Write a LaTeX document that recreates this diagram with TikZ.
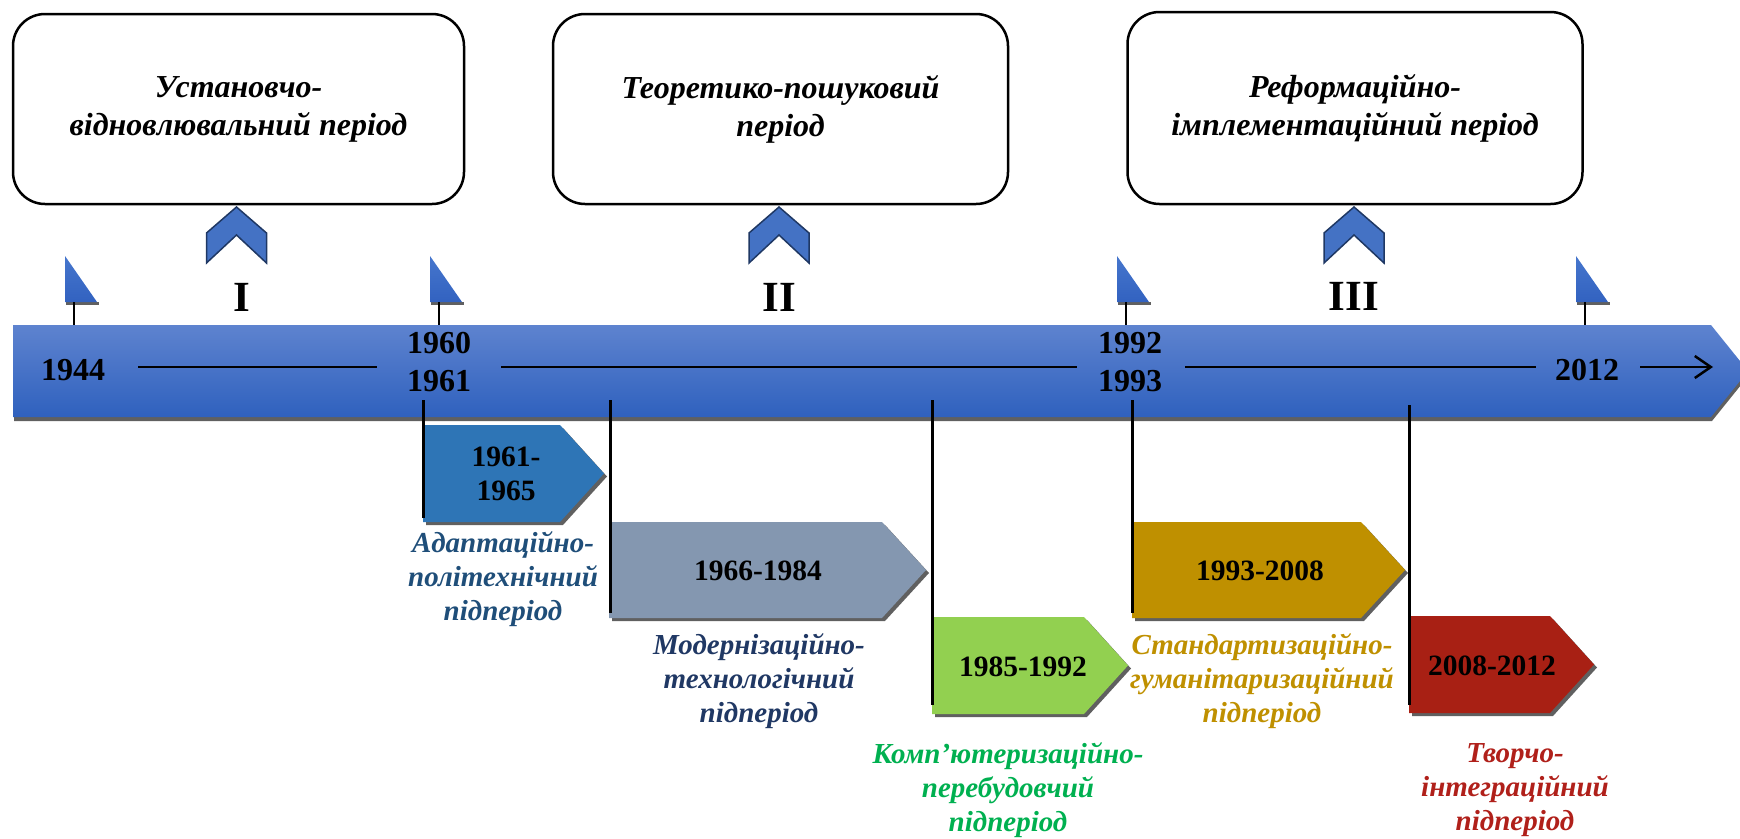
\documentclass[tikz,border=0pt]{standalone}
\usepackage{fontspec}
\setmainfont{Liberation Serif}
\usetikzlibrary{arrows.meta}

\definecolor{barTop}{RGB}{94,131,207}
\definecolor{barBot}{RGB}{47,97,190}
\definecolor{flagTop}{RGB}{70,118,205}
\definecolor{flagBot}{RGB}{50,98,192}
\definecolor{chevFill}{RGB}{68,114,196}
\definecolor{chevLine}{RGB}{31,56,100}
\definecolor{shadowGray}{RGB}{96,96,96}
\definecolor{plateA}{RGB}{46,117,182}
\definecolor{plateB}{RGB}{132,151,176}
\definecolor{plateC}{RGB}{146,208,80}
\definecolor{plateD}{RGB}{191,144,0}
\definecolor{plateE}{RGB}{168,32,20}
\definecolor{textA}{RGB}{31,78,121}
\definecolor{textB}{RGB}{32,56,100}
\definecolor{textC}{RGB}{0,176,80}
\definecolor{textD}{RGB}{191,144,0}
\definecolor{textE}{RGB}{176,32,26}

% home-plate arrow: fill colour, x left, x of shoulder, x tip, y top, y bottom
\newcommand\drawplate[6]{%
  \fill[shadowGray] ({#2+3},{#5+3}) -- ({#3+3},{#5+3}) -- ({#4+3},{(#5+#6)/2+3})
     -- ({#3+3},{#6+3}) -- ({#2+3},{#6+3}) -- cycle;
  \fill[#1] (#2,#5) -- (#3,#5) -- (#4,{(#5+#6)/2}) -- (#3,#6) -- (#2,#6) -- cycle;
}
% upward chevron with its apex at the given point
\newcommand\drawchevron[1]{%
  \draw[chevron, shift={(#1)}] (0,0) -- (-30,26) -- (-30,56) -- (0,28) -- (30,56) -- (30,26) -- cycle;
}
% small triangular flag standing on the time bar
\newcommand\drawflag[2]{%
  \fill[shadowGray] ({#1+1},302) rectangle ({#1+34},305);
  \shade[top color=flagTop, bottom color=flagBot] (#1,256) -- (#1,302) -- ({#1+32},302) -- cycle;
  \coordinate (ft#2) at ({#1+9},302);
  \coordinate (fb#2) at ({#1+9},325);
  \draw[pole] (ft#2) -- (fb#2);
}

\begin{document}
\begin{tikzpicture}[x=1pt,y=-1pt,
  period/.style={draw=black, line width=2.5pt, rounded corners=32pt, fill=white,
    font=\bfseries\itshape\fontsize{32}{38}\selectfont, align=center, inner sep=0pt},
  chevron/.style={fill=chevFill, draw=chevLine, line width=1.5pt, line join=miter},
  pole/.style={line width=2.5pt, black},
  roman/.style={font=\bfseries\fontsize{43}{48}\selectfont},
  year/.style={font=\bfseries\fontsize{32}{38}\selectfont, align=center, inner sep=0pt},
  span/.style={font=\bfseries\fontsize{29.5}{34}\selectfont, align=center, inner sep=0pt},
  sublabel/.style={font=\bfseries\itshape\fontsize{29}{34}\selectfont, align=center, inner sep=0pt},
  tick/.style={line width=3pt, black},
  axisline/.style={line width=2.5pt, black}]
\useasboundingbox (0,0) rectangle (1740,838);

% period boxes
\node[period, minimum width=451pt, minimum height=190pt] (per1) at (238.5,109)
  {Установчо-\\відновлювальний період};
\node[period, minimum width=455pt, minimum height=190pt] (per2) at (780.5,109)
  {Теоретико-пошуковий\\період};
\node[period, minimum width=455pt, minimum height=192pt] (per3) at (1355,108)
  {Реформаційно-\\імплементаційний період};

% chevrons and period numerals
\drawchevron{236.5,207}
\drawchevron{779,207}
\drawchevron{1354,207}
\node[roman] (r1) at (242,297) {I};
\node[roman] (r2) at (779,297) {II};
\node[roman] (r3) at (1354,296) {III};

% time bar
\fill[shadowGray] (14,329) -- (1712,329) -- (1749,375) -- (1712,421) -- (14,421) -- cycle;
\shade[top color=barTop, bottom color=barBot] (13,325) -- (1711,325) -- (1748,371) -- (1711,417) -- (13,417) -- cycle;

% flags
\drawflag{65}{1}
\drawflag{430}{2}
\drawflag{1117}{3}
\drawflag{1576}{4}

% years on the bar
\node[year] (y1944) at (73,370) {1944};
\node[year] (y1960) at (439,362) {1960\\1961};
\node[year] (y1992) at (1130,362) {1992\\1993};
\node[year] (y2012) at (1587,370) {2012};

\coordinate (l1a) at (138,367);  \coordinate (l1b) at (377,367);
\coordinate (l2a) at (501,367);  \coordinate (l2b) at (1077,367);
\coordinate (l3a) at (1185,367); \coordinate (l3b) at (1536,367);
\coordinate (l4a) at (1640,367); \coordinate (l4b) at (1713,367);
\draw[axisline] (l1a) -- (l1b);
\draw[axisline] (l2a) -- (l2b);
\draw[axisline] (l3a) -- (l3b);
\draw[axisline, -{Straight Barb[length=16pt, width=22pt]}] (l4a) -- (l4b);

% sub-period arrows
\drawplate{plateA}{423}{560}{604}{425}{522}
\drawplate{plateB}{609}{882}{926}{522}{618}
\drawplate{plateC}{932}{1084}{1128}{617}{714}
\drawplate{plateD}{1132}{1361}{1405}{522}{618}
\drawplate{plateE}{1409}{1550}{1594}{616}{713}

\node[span] (sA) at (506,474) {1961-\\1965};
\node[span] (sB) at (758,571) {1966-1984};
\node[span] (sC) at (1023,667) {1985-1992};
\node[span] (sD) at (1260,571) {1993-2008};
\node[span] (sE) at (1492,666) {2008-2012};

% ticks dropping from the bar
\coordinate (tA1) at (423,400);  \coordinate (tA2) at (423,518);
\coordinate (tB1) at (610,400);  \coordinate (tB2) at (610,613);
\coordinate (tC1) at (932,400);  \coordinate (tC2) at (932,705);
\coordinate (tD1) at (1132,400); \coordinate (tD2) at (1132,613);
\coordinate (tE1) at (1409,405); \coordinate (tE2) at (1409,705);
\draw[tick] (tA1) -- (tA2);
\draw[tick] (tB1) -- (tB2);
\draw[tick] (tC1) -- (tC2);
\draw[tick] (tD1) -- (tD2);
\draw[tick] (tE1) -- (tE2);

% sub-period names
\node[sublabel, text=textA] (nA) at (503,579) {Адаптаційно-\\політехнічний\\підперіод};
\node[sublabel, text=textB] (nB) at (759,681) {Модернізаційно-\\технологічний\\підперіод};
\node[sublabel, text=textC] (nC) at (1008,790) {Комп’ютеризаційно-\\перебудовчий\\підперіод};
\node[sublabel, text=textD] (nD) at (1262,681) {Стандартизаційно-\\гуманітаризаційний\\підперіод};
\node[sublabel, text=textE] (nE) at (1515,790) {Творчо-\\інтеграційний\\підперіод};
\end{tikzpicture}
\end{document}
